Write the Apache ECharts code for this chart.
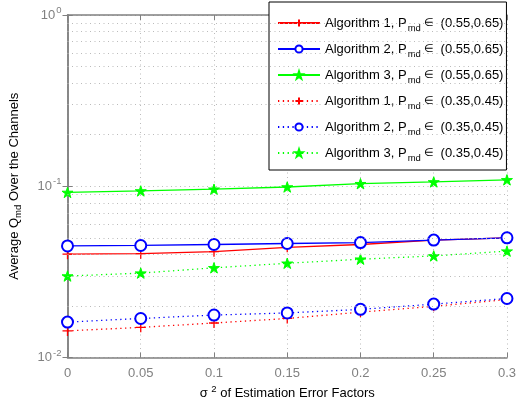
<!DOCTYPE html>
<html><head><meta charset="utf-8">
<script src="https://cdn.jsdelivr.net/npm/echarts@6/dist/echarts.min.js"></script>
<style>html,body{margin:0;padding:0;background:#fff}#c{width:519px;height:405px}</style>
</head><body><div id="c"></div>
<script>
var xValues = [0, 0.05, 0.1, 0.15, 0.2, 0.25, 0.3];
var alg1High = [0.0401, 0.0404, 0.0415, 0.0440, 0.0457, 0.0485, 0.0500];
var alg2High = [0.0448, 0.0451, 0.0457, 0.0463, 0.0469, 0.0485, 0.0500];
var alg3High = [0.0920, 0.0939, 0.0961, 0.0990, 0.1035, 0.1060, 0.1090];
var alg1Low = [0.0143, 0.0150, 0.0159, 0.0169, 0.0184, 0.0199, 0.0218];
var alg2Low = [0.0161, 0.0169, 0.0177, 0.0182, 0.0191, 0.0205, 0.0221];
var alg3Low = [0.0299, 0.0311, 0.0334, 0.0355, 0.0375, 0.0392, 0.0418];
var seriesNames = [
  'Algorithm 1, P_md ∈ (0.55,0.65)',
  'Algorithm 2, P_md ∈ (0.55,0.65)',
  'Algorithm 3, P_md ∈ (0.55,0.65)',
  'Algorithm 1, P_md ∈ (0.35,0.45)',
  'Algorithm 2, P_md ∈ (0.35,0.45)',
  'Algorithm 3, P_md ∈ (0.35,0.45)'
];
var xTicks = [0, 0.05, 0.1, 0.15, 0.2, 0.25, 0.3];
var yMinorGrid = [0.02,0.03,0.04,0.05,0.06,0.07,0.08,0.09,0.2,0.3,0.4,0.5,0.6,0.7,0.8,0.9];

var FONT = 'Liberation Sans, Arial, sans-serif';
var plusPath = 'path://M0,5L10,5M5,0L5,10';
var starPath = 'path://M10,0L12.25,6.91L19.51,6.91L13.63,11.18L15.88,18.09L10,13.82L4.12,18.09L6.37,11.18L0.49,6.91L7.75,6.91Z';

function pairs(arr){ return xValues.map(function(x,i){return [x, arr[i]];}); }

function mk(name, data, color, dotted, kind){
  var s = {
    name: name, type: 'line', data: pairs(data),
    lineStyle: {color: color, width: 1.3, type: dotted ? [1.3, 3.5] : 'solid'},
    itemStyle: {color: color, borderColor: color, borderWidth: 1.2},
    symbolKeepAspect: true,
    animation: false, z: 3
  };
  if (kind === 'plus') { s.symbol = plusPath; s.symbolSize = 10; s.itemStyle.borderWidth = 1.3; }
  else if (kind === 'circle') { s.symbol = 'emptyCircle'; s.symbolSize = 11; s.itemStyle.borderWidth = 1.5; }
  else { s.symbol = starPath; s.symbolSize = 11; s.itemStyle.borderWidth = 1; }
  return s;
}

var series = [
  mk(seriesNames[0], alg1High, '#ff0000', false, 'plus'),
  mk(seriesNames[1], alg2High, '#0000ff', false, 'circle'),
  mk(seriesNames[2], alg3High, '#00ff00', false, 'star'),
  mk(seriesNames[3], alg1Low, '#ff0000', true, 'plus'),
  mk(seriesNames[4], alg2Low, '#0000ff', true, 'circle'),
  mk(seriesNames[5], alg3Low, '#00ff00', true, 'star')
];
series.push({
  type: 'line', data: [], silent: true, animation: false,
  markLine: {
    silent: true, symbol: 'none', animation: false,
    label: {show: false},
    lineStyle: {color: '#bbbbbb', type: [1, 3.5], width: 1},
    data: yMinorGrid.map(function(v){ return {yAxis: v}; })
  }
});

function supLabel(v){
  var e = Math.round(Math.log10(v));
  return '{b|10}{s|' + e + '}';
}

var chart = echarts.init(document.getElementById('c'), null, {renderer: 'canvas'});
chart.setOption({
  backgroundColor: '#fff',
  animation: false,
  grid: {left: 67, right: 11, top: 15, bottom: 44, containLabel: false},
  legend: {
    orient: 'vertical', left: 269, top: 2,
    backgroundColor: '#fff', borderColor: '#000', borderWidth: 1,
    padding: [11, 3, 7, 8],
    itemWidth: 42, itemHeight: 9, itemGap: 6,
    data: seriesNames,
    formatter: function(n){
      var p = n.split('P_md ∈');
      return '{t|' + p[0] + 'P}{sub|md}{e| ∈ }{t|' + p[1] + '}';
    },
    textStyle: {
      fontFamily: FONT, color: '#000',
      rich: {
        t: {fontSize: 13, fontFamily: FONT, color: '#000', lineHeight: 20},
        e: {fontSize: 11, fontFamily: FONT, color: '#000', lineHeight: 20},
        sub: {fontSize: 9.5, fontFamily: FONT, color: '#000', padding: [10, 0, 0, 1], lineHeight: 20}
      }
    }
  },
  xAxis: [{
    type: 'value', min: 0, max: 0.3, interval: 0.05,
    name: '{s|σ }{p|2}{s| of Estimation Error Factors}',
    nameLocation: 'middle', nameGap: 27,
    nameTextStyle: {
      rich: {
        s: {fontSize: 13, fontFamily: FONT, color: '#000'},
        p: {fontSize: 9.5, fontFamily: FONT, color: '#000', padding: [0, 0, 8, 0]}
      }
    },
    axisLine: {lineStyle: {color: '#808080', width: 1.5}},
    axisTick: {inside: true, length: 5, lineStyle: {color: '#808080'}},
    axisLabel: {color: '#808080', fontSize: 13, fontFamily: FONT, margin: 9,
      formatter: function(v){ return String(+v.toFixed(2)); }},
    splitLine: {show: true, lineStyle: {color: '#bbbbbb', type: [1, 3.5], width: 1}}
  }, {
    type: 'value', min: 0, max: 0.3, interval: 0.05, position: 'top',
    axisLine: {show: true, lineStyle: {color: '#808080', width: 1.5}},
    axisTick: {inside: true, length: 5, lineStyle: {color: '#808080'}},
    axisLabel: {show: false}, splitLine: {show: false}
  }],
  yAxis: [{
    type: 'log', logBase: 10, min: 0.01, max: 1,
    name: '{s|Average Q}{p|md}{s| Over the Channels}',
    nameLocation: 'middle', nameGap: 44, nameRotate: 90,
    nameTextStyle: {
      rich: {
        s: {fontSize: 13, fontFamily: FONT, color: '#000'},
        p: {fontSize: 9.5, fontFamily: FONT, color: '#000', padding: [8, 0, 0, 0]}
      }
    },
    axisLine: {show: true, lineStyle: {color: '#808080', width: 1.5}},
    axisTick: {inside: true, length: 5, lineStyle: {color: '#808080'}},
    axisLabel: {
      formatter: supLabel, margin: 6,
      rich: {
        b: {fontSize: 13, fontFamily: FONT, color: '#808080'},
        s: {fontSize: 9.5, fontFamily: FONT, color: '#808080', padding: [0, 0, 9, 1]}
      }
    },
    splitLine: {show: true, lineStyle: {color: '#bbbbbb', type: [1, 3.5], width: 1}}
  }, {
    type: 'log', logBase: 10, min: 0.01, max: 1, position: 'right',
    axisLine: {show: true, lineStyle: {color: '#808080', width: 1.5}},
    axisTick: {inside: true, length: 5, lineStyle: {color: '#808080'}},
    axisLabel: {show: false}, splitLine: {show: false}
  }],
  series: series
});
</script></body></html>
